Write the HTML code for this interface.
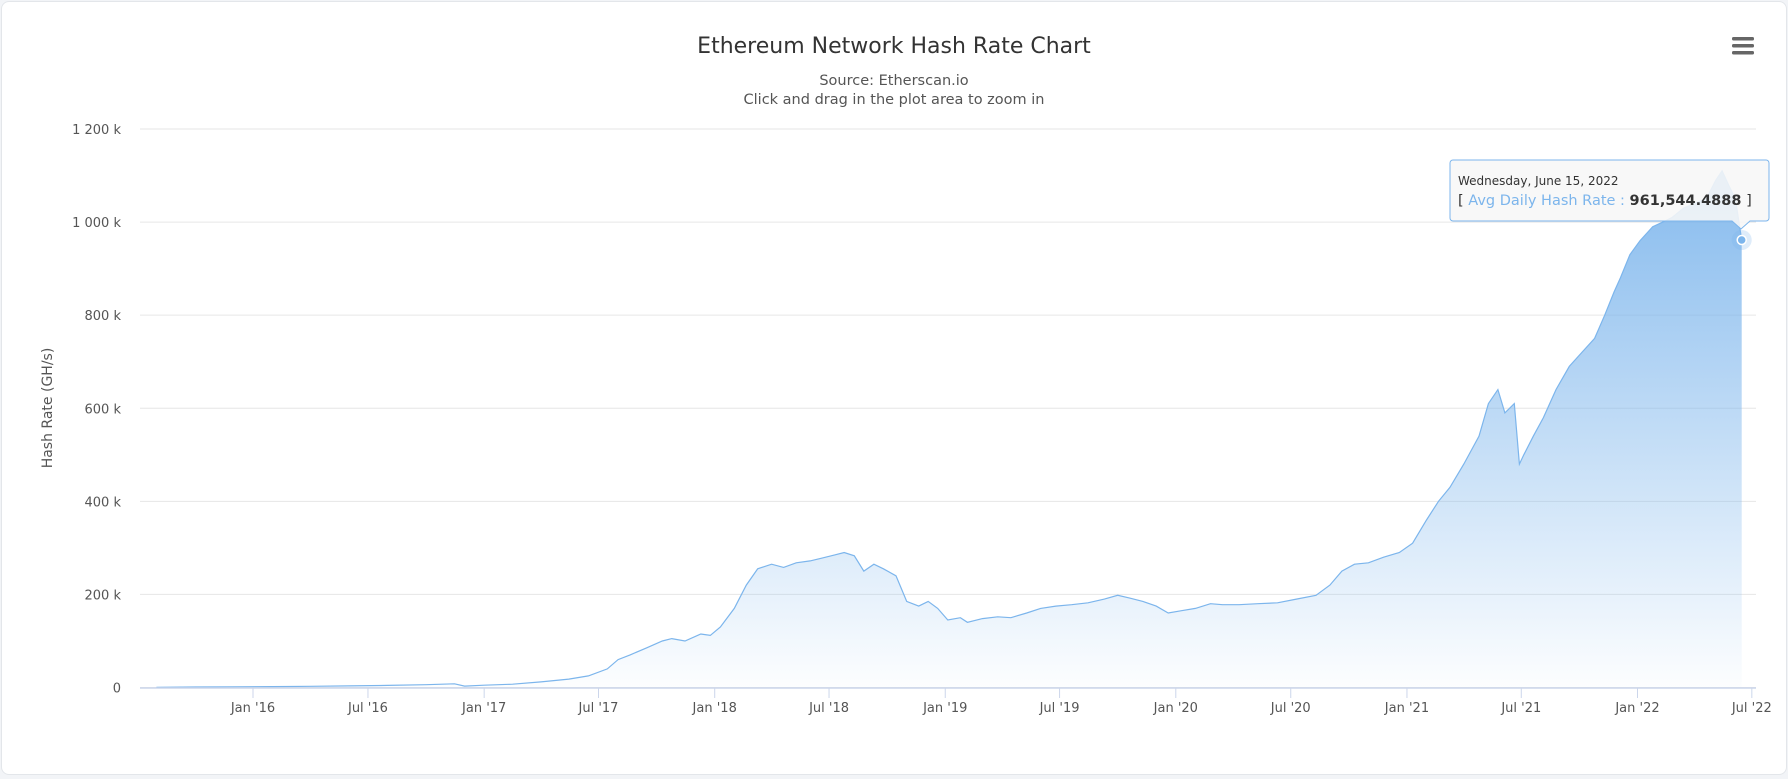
<!DOCTYPE html>
<html><head><meta charset="utf-8"><style>
html,body{margin:0;padding:0;background:#f2f4f7;}
#card{position:absolute;left:1px;top:1px;width:1784px;height:772px;background:#fff;border:1px solid #e3e6ea;border-radius:8px;}
svg{position:absolute;left:0;top:0;font-family:"DejaVu Sans","Liberation Sans",sans-serif;}
</style></head><body>
<div id="card"></div>
<svg id="chart" width="1788" height="779">
<defs><linearGradient id="fillg" gradientUnits="userSpaceOnUse" x1="0" y1="129" x2="0" y2="687">
<stop offset="0" stop-color="#7cb5ec" stop-opacity="1"/><stop offset="1" stop-color="#7cb5ec" stop-opacity="0.02"/></linearGradient></defs>
<text x="894" y="53" text-anchor="middle" font-size="22" fill="#333">Ethereum Network Hash Rate Chart</text>
<text x="894" y="85" text-anchor="middle" font-size="14.5" fill="#555">Source: Etherscan.io</text>
<text x="894" y="104" text-anchor="middle" font-size="14.5" fill="#555">Click and drag in the plot area to zoom in</text>
<g><rect x="1732" y="37" width="22" height="3.5" rx="1.5" fill="#666"/><rect x="1732" y="44" width="22" height="3.5" rx="1.5" fill="#666"/><rect x="1732" y="51" width="22" height="3.5" rx="1.5" fill="#666"/></g>
<text transform="translate(52,408) rotate(-90)" text-anchor="middle" font-size="14" fill="#555">Hash Rate (GH/s)</text>
<g id="grid"></g><g id="series"></g><g id="xaxis"></g>
<g>
<path d="M1453,160 H1766 a3,3 0 0 1 3,3 V218 a3,3 0 0 1 -3,3 H1750 L1741,229 L1732,221 H1453 a3,3 0 0 1 -3,-3 V163 a3,3 0 0 1 3,-3 Z" fill="#f7f7f7" fill-opacity="0.88" stroke="#7cb5ec" stroke-width="1"/>
<text x="1458" y="185" font-size="12" fill="#333">Wednesday, June 15, 2022</text>
<text x="1458" y="205" font-size="14.5" fill="#333">[ <tspan fill="#7cb5ec">Avg Daily Hash Rate :</tspan> <tspan font-weight="bold">961,544.4888</tspan> ]</text>
</g>
</svg>
<script>
const dates=["2015-08-01","2015-10-01","2015-12-01","2016-02-01","2016-04-01","2016-06-01","2016-08-01","2016-10-01","2016-11-15","2016-12-01","2017-01-01","2017-02-15","2017-04-01","2017-05-15","2017-06-15","2017-07-15","2017-08-01","2017-08-20","2017-09-15","2017-10-10","2017-10-25","2017-11-15","2017-12-10","2017-12-25","2018-01-10","2018-02-01","2018-02-20","2018-03-10","2018-04-01","2018-04-20","2018-05-10","2018-06-01","2018-06-20","2018-07-10","2018-07-25","2018-08-10","2018-08-25","2018-09-10","2018-09-25","2018-10-15","2018-11-01","2018-11-20","2018-12-05","2018-12-20","2019-01-05","2019-01-25","2019-02-05","2019-03-01","2019-03-25","2019-04-15","2019-05-10","2019-06-01","2019-06-25","2019-07-20","2019-08-15","2019-09-10","2019-10-01","2019-10-20","2019-11-10","2019-12-01","2019-12-20","2020-01-10","2020-02-01","2020-02-25","2020-03-15","2020-04-10","2020-05-10","2020-06-10","2020-07-10","2020-08-10","2020-09-01","2020-09-20","2020-10-10","2020-11-01","2020-11-25","2020-12-20","2021-01-10","2021-02-01","2021-02-20","2021-03-10","2021-04-01","2021-04-25","2021-05-10","2021-05-25","2021-06-05","2021-06-20","2021-06-28","2021-07-05","2021-07-20","2021-08-05","2021-08-25","2021-09-15","2021-10-05","2021-10-25","2021-11-10","2021-11-25","2021-12-05","2021-12-20","2022-01-05","2022-01-25","2022-02-10","2022-02-25","2022-03-15","2022-04-01","2022-04-20","2022-05-05","2022-05-15","2022-05-25","2022-06-05","2022-06-15"];
const values=[0.5,1,1.5,2,2.5,3.5,4.5,6,8,3,5,7,12,18,25,40,60,70,85,100,105,100,115,112,130,170,220,255,265,258,268,272,278,285,290,283,250,265,255,240,185,175,185,170,145,150,140,148,152,150,160,170,175,178,182,190,198,192,185,175,160,165,170,180,178,178,180,182,190,198,220,250,265,268,280,290,310,360,400,430,480,540,610,640,590,610,480,500,540,580,640,690,720,750,800,850,880,930,960,990,1000,1010,1030,1040,1050,1090,1110,1080,1050,961.5445];
const yTicks=[0,200,400,600,800,1000,1200];
const yTickLabels=["0","200 k","400 k","600 k","800 k","1 000 k","1 200 k"];
const xTickDates=["2016-01-01","2016-07-01","2017-01-01","2017-07-01","2018-01-01","2018-07-01","2019-01-01","2019-07-01","2020-01-01","2020-07-01","2021-01-01","2021-07-01","2022-01-01","2022-07-01"];
const xTickLabels=["Jan '16","Jul '16","Jan '17","Jul '17","Jan '18","Jul '18","Jan '19","Jul '19","Jan '20","Jul '20","Jan '21","Jul '21","Jan '22","Jul '22"];
const NS="http://www.w3.org/2000/svg";
const t0=Date.parse("2016-01-01"),t1=Date.parse("2022-01-01");
function xs(d){return 253+(Date.parse(d)-t0)/(t1-t0)*(1637.5-253);}
function ys(v){return 687.5-v/1200*(687.5-129);}
function mk(tag,attrs,parent){const e=document.createElementNS(NS,tag);for(const k in attrs)e.setAttribute(k,attrs[k]);parent.appendChild(e);return e;}
const grid=document.getElementById('grid');
yTicks.forEach((v,i)=>{
 const l=mk('line',{x1:140,x2:1756,y1:ys(v),y2:ys(v),stroke:'#e6e6e6','stroke-width':1},grid);
 
 
 const t=mk('text',{x:121,y:ys(v)+5,'text-anchor':'end','font-size':13,fill:'#555'},grid);
 t.textContent=yTickLabels[i];
 
 
});
const ser=document.getElementById('series');
let d='';dates.forEach((dt,i)=>{d+=(i?'L':'M')+xs(dt).toFixed(1)+','+ys(values[i]).toFixed(1);});
const area=mk('path',{d:d+'L'+xs(dates[dates.length-1]).toFixed(1)+','+ys(0)+'L'+xs(dates[0]).toFixed(1)+','+ys(0)+'Z',fill:'url(#fillg)'},ser);


const line=mk('path',{d:d,fill:'none',stroke:'#7cb5ec','stroke-width':1.2},ser);


const lx=xs(dates[dates.length-1]),ly=ys(values[values.length-1]);
const halo=mk('circle',{cx:lx,cy:ly,r:10,fill:'#7cb5ec','fill-opacity':0.25},ser);


const pt=mk('circle',{cx:lx,cy:ly,r:4.5,fill:'#7cb5ec',stroke:'#fff','stroke-width':1.5},ser);


const xa=document.getElementById('xaxis');
const ax=mk('line',{x1:140,x2:1756,y1:688,y2:688,stroke:'#ccd6eb','stroke-width':1.5},xa);


xTickDates.forEach((dt,i)=>{
 const x=xs(dt);
 const tk=mk('line',{x1:x,x2:x,y1:688,y2:698,stroke:'#ccd6eb'},xa);
 
 
 const t=mk('text',{x:x,y:712,'text-anchor':'middle','font-size':13,fill:'#555'},xa);
 t.textContent=xTickLabels[i];
 
 
});
</script>
</body></html>
